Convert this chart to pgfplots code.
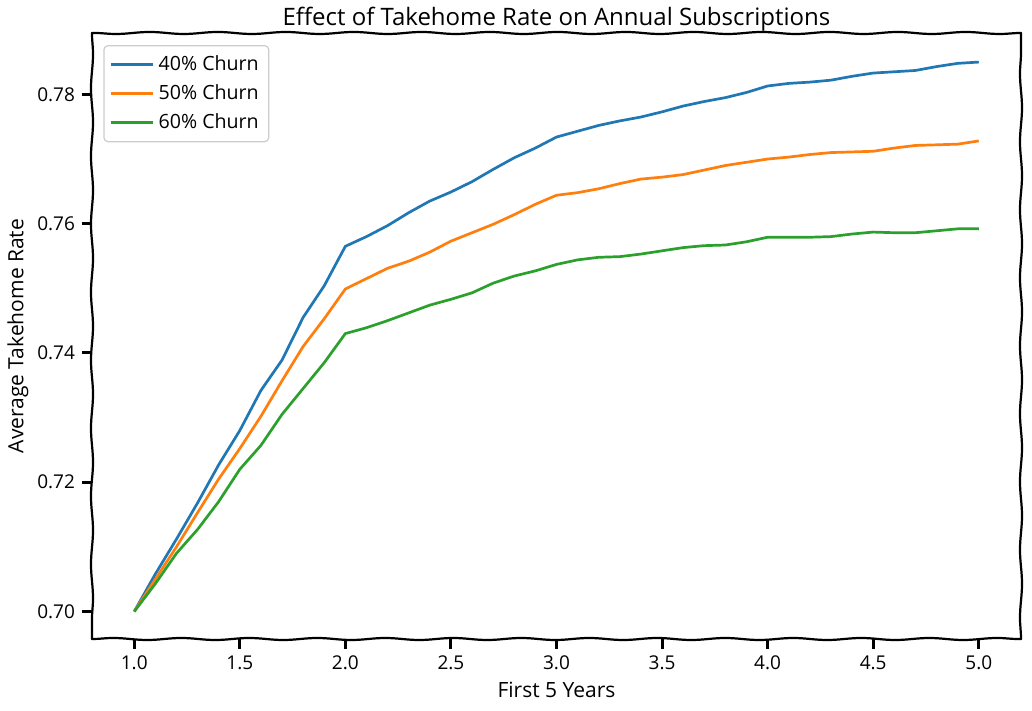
\documentclass[border=0pt]{standalone}
\usepackage{pgfplots}
\pgfplotsset{compat=1.18}
\usepackage{fontspec}
\setmainfont{Open Sans}
\usetikzlibrary{decorations.pathmorphing}
\definecolor{tabblue}{HTML}{1F77B4}
\definecolor{taborange}{HTML}{FF7F0E}
\definecolor{tabgreen}{HTML}{2CA02C}
\pgfplotstableread{
x y
1.0 0.7000
1.1 0.7058
1.2 0.7112
1.3 0.7168
1.4 0.7227
1.5 0.7280
1.6 0.7342
1.7 0.7389
1.8 0.7455
1.9 0.7504
2.0 0.7565
2.1 0.7580
2.2 0.7597
2.3 0.7617
2.4 0.7635
2.5 0.7649
2.6 0.7665
2.7 0.7684
2.8 0.7702
2.9 0.7717
3.0 0.7734
3.1 0.7743
3.2 0.7752
3.3 0.7759
3.4 0.7765
3.5 0.7773
3.6 0.7782
3.7 0.7789
3.8 0.7795
3.9 0.7803
4.0 0.7813
4.1 0.7817
4.2 0.7819
4.3 0.7822
4.4 0.7828
4.5 0.7833
4.6 0.7835
4.7 0.7837
4.8 0.7843
4.9 0.7848
5.0 0.7850
}\blue
\pgfplotstableread{
x y
1.0 0.7000
1.1 0.7050
1.2 0.7100
1.3 0.7153
1.4 0.7205
1.5 0.7252
1.6 0.7302
1.7 0.7357
1.8 0.7410
1.9 0.7453
2.0 0.7499
2.1 0.7515
2.2 0.7531
2.3 0.7542
2.4 0.7556
2.5 0.7573
2.6 0.7586
2.7 0.7599
2.8 0.7614
2.9 0.7630
3.0 0.7644
3.1 0.7648
3.2 0.7654
3.3 0.7662
3.4 0.7669
3.5 0.7672
3.6 0.7676
3.7 0.7683
3.8 0.7690
3.9 0.7695
4.0 0.7700
4.1 0.7703
4.2 0.7707
4.3 0.7710
4.4 0.7711
4.5 0.7712
4.6 0.7717
4.7 0.7721
4.8 0.7722
4.9 0.7723
5.0 0.7728
}\orange
\pgfplotstableread{
x y
1.0 0.7000
1.1 0.7043
1.2 0.7090
1.3 0.7127
1.4 0.7170
1.5 0.7220
1.6 0.7257
1.7 0.7305
1.8 0.7345
1.9 0.7385
2.0 0.7430
2.1 0.7439
2.2 0.7450
2.3 0.7462
2.4 0.7474
2.5 0.7483
2.6 0.7493
2.7 0.7508
2.8 0.7519
2.9 0.7527
3.0 0.7537
3.1 0.7544
3.2 0.7548
3.3 0.7549
3.4 0.7553
3.5 0.7558
3.6 0.7563
3.7 0.7566
3.8 0.7567
3.9 0.7572
4.0 0.7579
4.1 0.7579
4.2 0.7579
4.3 0.7580
4.4 0.7584
4.5 0.7587
4.6 0.7586
4.7 0.7586
4.8 0.7589
4.9 0.7592
5.0 0.7592
}\green
\begin{document}
\begin{tikzpicture}
\begin{axis}[
  scale only axis,
  width=464.5bp, height=303bp,
  xmin=0.8, xmax=5.2,
  ymin=0.69575, ymax=0.7895,
  axis line style={draw=none},
  xtick={1.0,1.5,2.0,2.5,3.0,3.5,4.0,4.5,5.0},
  ytick={0.70,0.72,0.74,0.76,0.78},
  xticklabel style={/pgf/number format/fixed, /pgf/number format/fixed zerofill, /pgf/number format/precision=1},
  yticklabel style={/pgf/number format/fixed, /pgf/number format/fixed zerofill, /pgf/number format/precision=2},
  /pgf/number format/assume math mode=true,
  ticklabel style={font=\fontsize{9.5bp}{11bp}\selectfont},
  tick align=outside,
  tick pos=left,
  major tick length=5bp,
  tick style={line width=1.5bp, black},
  every axis title shift=0pt,
  title={Effect of Takehome Rate on Annual Subscriptions},
  title style={at={(axis description cs:0.5,1.0116)}, anchor=base, font=\fontsize{12bp}{14bp}\selectfont, inner sep=0pt},
  xlabel={First 5 Years},
  xlabel style={at={(axis description cs:0.5,-0.0964)}, anchor=base, font=\fontsize{10.5bp}{12bp}\selectfont, inner sep=0pt},
  ylabel={Average Takehome Rate},
  ylabel style={at={(axis description cs:-0.0797,0.5)}, anchor=center, font=\fontsize{10.5bp}{12bp}\selectfont, inner sep=0pt},
  legend style={at={(axis description cs:0.0122,0.980)}, anchor=north west,
    draw=black!20, line width=0.6bp, rounded corners=2bp,
    font=\fontsize{9.8bp}{11bp}\selectfont,
    row sep=1.6bp, inner xsep=3bp, inner ysep=3bp},
  legend cell align=left,
  legend image code/.code={\draw[#1, line width=1.35bp] (0bp,0bp) -- (21bp,0bp);},
]
\coordinate (SW) at (rel axis cs:0,0);
\coordinate (NE) at (rel axis cs:1,1);
\coordinate (NW) at (rel axis cs:0,1);
\coordinate (SE) at (rel axis cs:1,0);
\addplot[tabblue, line width=1.35bp] table[x=x,y=y] {\blue};
\addlegendentry{40\% Churn}
\addplot[taborange, line width=1.35bp] table[x=x,y=y] {\orange};
\addlegendentry{50\% Churn}
\addplot[tabgreen, line width=1.35bp] table[x=x,y=y] {\green};
\addlegendentry{60\% Churn}
\end{axis}
\begin{scope}[line width=1.1bp, line cap=round, decoration={snake, segment length=34bp, amplitude=0.5bp}]
\draw[decorate] (SW) -- (SE);
\draw[decorate] (SE) -- (NE);
\draw[decorate] (NE) -- (NW);
\draw[decorate] (NW) -- (SW);
\end{scope}
\pgfresetboundingbox
\path ([shift={(-46bp,-36bp)}]SW) rectangle ([shift={(5.5bp,16.5bp)}]NE);
\end{tikzpicture}
\end{document}
